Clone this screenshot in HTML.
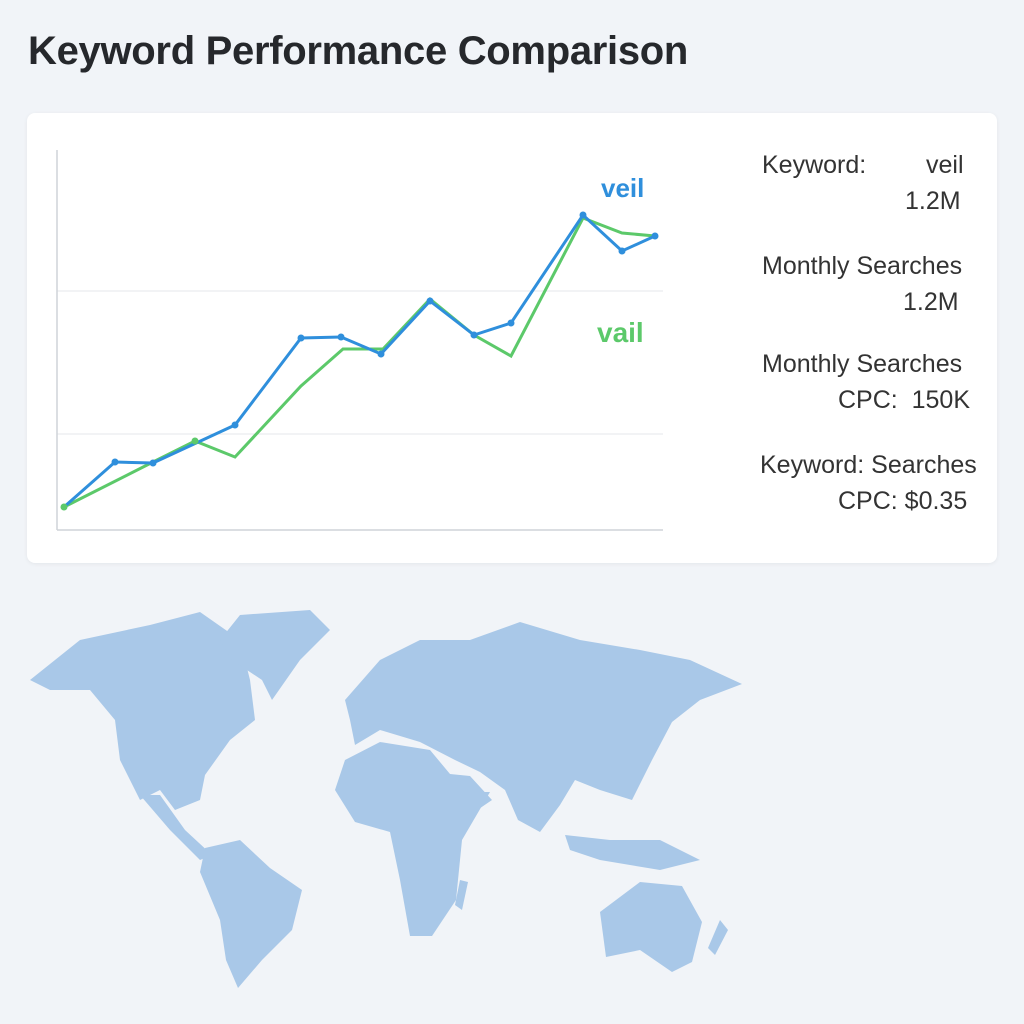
<!DOCTYPE html>
<html><head><meta charset="utf-8"><style>
body{margin:0;width:1024px;height:1024px;background:#f1f4f8;font-family:"Liberation Sans",sans-serif;position:relative;overflow:hidden}
h1{position:absolute;left:28px;top:29px;margin:0;font-size:40px;font-weight:700;color:#26282c;letter-spacing:-0.3px}
.card{position:absolute;left:27px;top:113px;width:970px;height:450px;background:#fff;border-radius:8px;box-shadow:0 1px 4px rgba(0,0,0,.06)}
.t{position:absolute;font-size:25px;color:#333;white-space:nowrap}
</style></head><body>
<h1>Keyword Performance Comparison</h1>
<div class="card"></div>
<svg style="position:absolute;left:0;top:0" width="1024" height="1024">
<line x1="57" y1="291" x2="663" y2="291" stroke="#e4e7eb"/>
<line x1="57" y1="434" x2="663" y2="434" stroke="#e4e7eb"/>
<line x1="57" y1="150" x2="57" y2="530" stroke="#cfd3d8" stroke-width="1.5"/>
<line x1="57" y1="530" x2="663" y2="530" stroke="#cfd3d8" stroke-width="1.5"/>
<polyline fill="none" stroke="#5cc96a" stroke-width="3" points="64,507 153,462 195,441 235,457 301,386 343,349 383,349 430,299 474,335 511,356 583,218 622,233 655,236"/>
<polyline fill="none" stroke="#2f8fdc" stroke-width="3" points="64,507 115,462 153,463 235,425 301,338 341,337 381,354 430,301 474,335 511,323 583,215 622,251 655,236"/>
<g fill="#2f8fdc"><circle cx="115" cy="462" r="3.5"/><circle cx="153" cy="463" r="3.5"/><circle cx="235" cy="425" r="3.5"/><circle cx="301" cy="338" r="3.5"/><circle cx="341" cy="337" r="3.5"/><circle cx="381" cy="354" r="3.5"/><circle cx="430" cy="301" r="3.5"/><circle cx="474" cy="335" r="3.5"/><circle cx="511" cy="323" r="3.5"/><circle cx="583" cy="215" r="3.5"/><circle cx="622" cy="251" r="3.5"/><circle cx="655" cy="236" r="3.5"/></g>
<g fill="#5cc96a"><circle cx="64" cy="507" r="3.5"/><circle cx="195" cy="441" r="3.5"/></g>
<text x="601" y="197" font-size="26" font-weight="700" fill="#2f8fdc" font-family="Liberation Sans">veil</text>
<text x="597" y="342" font-size="28" font-weight="700" fill="#5cc96a" font-family="Liberation Sans">vail</text>
<g fill="#a9c8e8">
<polygon points="30,680 80,640 150,625 200,612 240,640 250,680 255,720 230,740 205,775 200,800 175,810 160,790 140,800 120,760 115,720 90,690 50,690"/>
<polygon points="140,795 170,830 200,860 212,855 185,830 160,795"/>
<polygon points="220,640 240,615 310,610 330,630 300,660 272,700 262,680 232,660"/>
<polygon points="205,848 240,840 270,868 302,890 292,930 262,960 238,988 226,960 220,920 200,872"/>
<polygon points="345,700 380,660 420,640 470,640 520,622 580,640 640,650 690,660 742,684 700,700 672,722 652,760 632,800 600,790 575,780 560,805 540,832 518,820 505,790 480,772 455,760 420,742 380,730 355,745 350,720"/>
<polygon points="345,760 380,742 430,750 465,792 490,792 462,840 456,900 432,936 410,936 400,880 390,832 355,822 335,790"/>
<polygon points="430,772 470,776 492,800 470,815 462,822 442,792"/>
<polygon points="600,912 640,882 682,886 702,922 692,962 672,972 640,950 606,957"/>
<polygon points="565,835 610,840 660,840 700,860 660,870 600,860 570,850"/>
<polygon points="720,920 728,930 715,955 708,948"/>
<polygon points="460,880 468,882 462,910 455,905"/>
</g>
</svg>
<div class="t" style="left:762px;top:151px">Keyword:</div>
<div class="t" style="left:926px;top:151px">veil</div>
<div class="t" style="left:905px;top:187px">1.2M</div>
<div class="t" style="left:762px;top:252px">Monthly Searches</div>
<div class="t" style="left:903px;top:288px">1.2M</div>
<div class="t" style="left:762px;top:350px">Monthly Searches</div>
<div class="t" style="left:838px;top:386px">CPC:&nbsp; 150K</div>
<div class="t" style="left:760px;top:451px">Keyword: Searches</div>
<div class="t" style="left:838px;top:487px">CPC: $0.35</div>
</body></html>
